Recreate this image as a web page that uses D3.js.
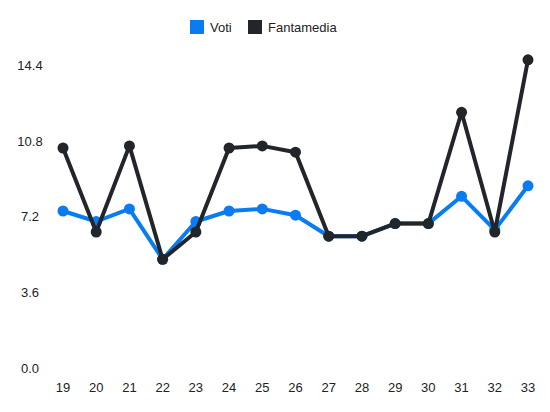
<!DOCTYPE html><html><head><script src="https://cdn.jsdelivr.net/npm/d3@7"></script>
<style>body{margin:0;background:#fff}text{font-family:"Liberation Sans",Arial,sans-serif}</style></head><body>
<svg id="c" width="550" height="412"></svg>
<script>
const days=[19,20,21,22,23,24,25,26,27,28,29,30,31,32,33];
const voti=[7.5,7.0,7.6,5.2,7.0,7.5,7.6,7.3,6.3,6.3,6.9,6.9,8.2,6.6,8.7];
const fanta=[10.5,6.5,10.6,5.2,6.5,10.5,10.6,10.3,6.3,6.3,6.9,6.9,12.2,6.5,14.7];
const yTicks=[0,3.6,7.2,10.8,14.4];
const series=[{name:"Voti",values:voti,color:"#0a7cf2"},{name:"Fantamedia",values:fanta,color:"#22252a"}];
const svg=d3.select("#c");
const x=d3.scalePoint().domain(days).range([63,528]);
const y=d3.scaleLinear().domain([0,16]).range([368.5,32.5]);
svg.append("g").selectAll("text").data(yTicks).join("text").attr("x",30).attr("y",d=>y(d)+4).attr("text-anchor","middle").attr("font-size",13).attr("fill","#222").text(d=>d.toFixed(1));
svg.append("g").selectAll("text").data(days).join("text").attr("x",d=>x(d)).attr("y",392).attr("text-anchor","middle").attr("font-size",13).attr("fill","#222").text(d=>d);
const line=d3.line().x((d,i)=>x(days[i])).y(d=>y(d));
series.forEach(s=>{
 svg.append("path").attr("d",line(s.values)).attr("fill","none").attr("stroke",s.color).attr("stroke-width",4).attr("stroke-linejoin","round");
 svg.append("g").selectAll("circle").data(s.values).join("circle").attr("cx",(d,i)=>x(days[i])).attr("cy",d=>y(d)).attr("r",5.5).attr("fill",s.color);
});
const lg=svg.append("g");
[[190,"Voti"],[248,"Fantamedia"]].forEach(([lx,t],i)=>{
 lg.append("rect").attr("x",lx).attr("y",20).attr("width",14).attr("height",14).attr("fill",series[i].color);
 lg.append("text").attr("x",lx+20).attr("y",32).attr("font-size",13).attr("fill","#222").text(t);
});
</script></body></html>
